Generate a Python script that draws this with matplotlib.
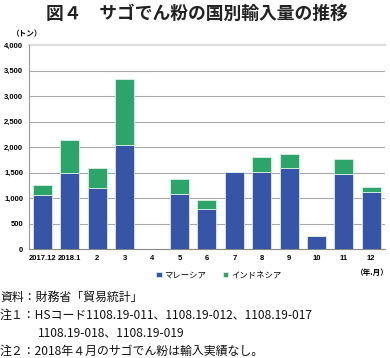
import matplotlib
matplotlib.use("Agg")
import matplotlib.pyplot as plt
import numpy as np

plt.rcParams['font.family'] = ['Noto Sans CJK JP', 'DejaVu Sans']

categories = ["2017.12", "2018.1", "2", "3", "4", "5", "6", "7", "8", "9", "10", "11", "12"]
malaysia = [1070, 1500, 1210, 2050, 0, 1090, 790, 1510, 1520, 1600, 270, 1480, 1130]
indonesia = [190, 650, 390, 1290, 0, 290, 180, 0, 280, 270, 0, 280, 95]
yticks = [0, 500, 1000, 1500, 2000, 2500, 3000, 3500, 4000]
ytick_labels = ["0", "500", "1,000", "1,500", "2,000", "2,500", "3,000", "3,500", "4,000"]

blue = "#3755a6"
green = "#2ca46a"

fig = plt.figure(figsize=(3.9, 3.58), dpi=100)
ax = fig.add_axes([0.074, 0.3036, 0.913, 0.5704])

x = np.arange(len(categories))
ax.bar(x, malaysia, width=0.69, color=blue, edgecolor="#dfe6f2", linewidth=0.6, label="マレーシア", zorder=3)
ax.bar(x, indonesia, width=0.69, bottom=malaysia, color=green, edgecolor="#d9efe3", linewidth=0.6, label="インドネシア", zorder=3)

ax.set_xlim(-0.5, len(categories) - 0.5)
ax.set_ylim(0, 4000)
ax.set_yticks(yticks)
ax.set_yticklabels(ytick_labels, fontsize=5.5, fontweight="bold", family=["Liberation Sans", "DejaVu Sans"])
ax.set_xticks(x)
ax.set_xticklabels(categories, fontsize=5.5, fontweight="bold", family=["Liberation Sans", "DejaVu Sans"])
ax.tick_params(axis="both", length=0, pad=4)
for t in yticks[1:-1]:
    ax.axhline(t, color="#a8a8a8", linewidth=0.8, zorder=1)
ax.axhline(4000, color="#dddddd", linewidth=1.6, zorder=1, clip_on=False)
for s in ["top", "right"]:
    ax.spines[s].set_visible(False)
ax.spines["left"].set_color("#999999")
ax.spines["bottom"].set_color("#888888")
ax.spines["left"].set_linewidth(0.8)
ax.spines["bottom"].set_linewidth(0.8)

fig.text(0.505, 0.962, "図４　サゴでん粉の国別輸入量の推移", ha="center", va="center",
         fontsize=12.8, fontweight="bold", color="#222222")
fig.text(0.03, 0.905, "（トン）", ha="left", va="center", fontsize=5.5, fontweight="bold")
fig.text(0.955, 0.24, "（年.月）", ha="center", va="center", fontsize=5.5, fontweight="bold")

leg = fig.legend(loc="center", bbox_to_anchor=(0.56, 0.232), ncol=2, frameon=False,
                 fontsize=6, handlelength=0.7, handleheight=0.7, columnspacing=2.0, handletextpad=0.3)

fig.text(0.0, 0.17, "資料：財務省「貿易統計」", ha="left", va="center", fontsize=8.6, color="#111111")
fig.text(0.0, 0.118, "注１：HSコード1108.19-011、1108.19-012、1108.19-017", ha="left", va="center", fontsize=8.6, color="#111111")
fig.text(0.097, 0.07, "1108.19-018、1108.19-019", ha="left", va="center", fontsize=8.6, color="#111111")
fig.text(0.0, 0.018, "注２：2018年４月のサゴでん粉は輸入実績なし。", ha="left", va="center", fontsize=8.6, color="#111111")

fig.savefig("out.png", dpi=100)
